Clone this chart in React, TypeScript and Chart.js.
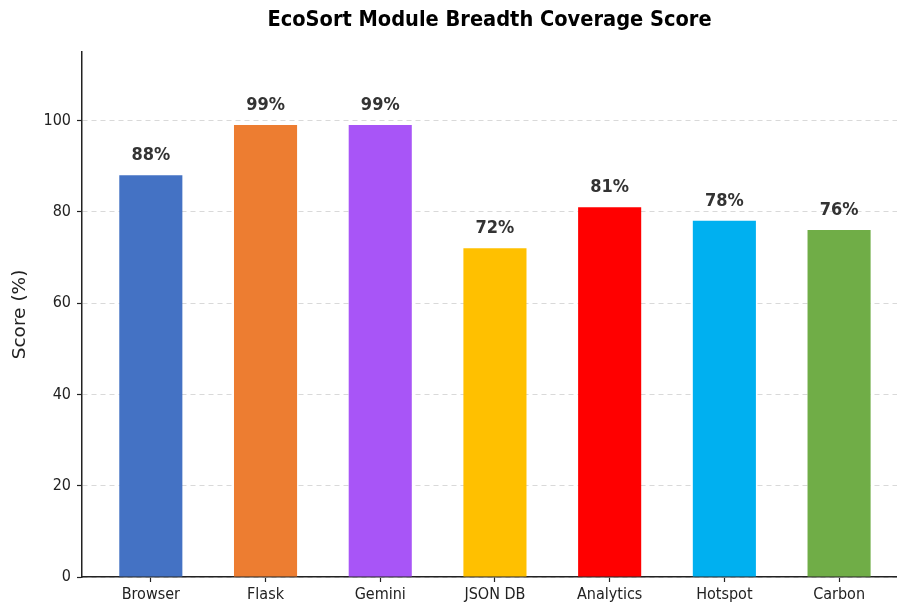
import { useEffect, useRef } from "react";
import { Chart, registerables } from "chart.js";
Chart.register(...registerables);

const categories = ["Browser", "Flask", "Gemini", "JSON DB", "Analytics", "Hotspot", "Carbon"];
const scores = [88, 99, 99, 72, 81, 78, 76];
const barColors = ["#4472C4", "#ED7D31", "#A855F7", "#FFC000", "#FF0000", "#00B0F0", "#70AD47"];
const yTicks = [0, 20, 40, 60, 80, 100];

const FONT = "'DejaVu Sans Condensed', 'DejaVu Sans', sans-serif";

const valueLabels = {
  id: "valueLabels",
  afterDatasetsDraw(chart: any) {
    const ctx = chart.ctx;
    const meta = chart.getDatasetMeta(0);
    ctx.save();
    ctx.font = `bold 18px ${FONT}`;
    ctx.fillStyle = "#333333";
    ctx.textAlign = "center";
    ctx.textBaseline = "alphabetic";
    meta.data.forEach((el: any, i: number) => {
      ctx.fillText(`${scores[i]}%`, el.x, el.y - 15);
    });
    ctx.restore();
  },
};

export default function App() {
  const ref = useRef<HTMLCanvasElement>(null);
  useEffect(() => {
    document.body.style.margin = "0";
    const chart = new Chart(ref.current!, {
      type: "bar",
      data: {
        datasets: [
          {
            data: scores.map((s, i) => ({ x: i, y: s })),
            backgroundColor: barColors,
            categoryPercentage: 1,
            barPercentage: 0.55,
          },
        ],
      },
      options: {
        animation: false,
        responsive: false,
        layout: { padding: { top: 0, bottom: 0, left: 0, right: 0 } },
        plugins: {
          legend: { display: false },
          tooltip: { enabled: false },
          title: {
            display: true,
            fullSize: false,
            text: "EcoSort Module Breadth Coverage Score",
            color: "#000000",
            font: { family: FONT, size: 21.6, weight: "bold", lineHeight: 1.2 },
            padding: { top: 7, bottom: 19 },
          },
        },
        scales: {
          x: {
            type: "linear",
            offset: false,
            min: -0.6,
            max: 6.505,
            afterBuildTicks: (s: any) => {
              s.ticks = categories.map((_, i) => ({ value: i }));
            },
            afterFit: (s: any) => {
              s.height = 29;
            },
            ticks: {
              callback: (v: any) => categories[v as number],
              font: { family: FONT, size: 16 },
              color: "#222222",
              padding: 3,
              maxRotation: 0,
              autoSkip: false,
            },
            grid: {
              offset: false,
              drawOnChartArea: false,
              drawTicks: true,
              tickLength: 5,
              tickColor: "#222222",
              tickWidth: 1.2,
            },
            border: { color: "#222222", width: 1.5 },
          },
          y: {
            min: 0,
            max: 115,
            afterBuildTicks: (s: any) => {
              s.ticks = yTicks.map((v) => ({ value: v }));
            },
            afterFit: (s: any) => {
              s.width = 82;
            },
            ticks: {
              font: { family: FONT, size: 16 },
              color: "#222222",
              padding: 6,
            },
            grid: {
              color: "#d9d9d9",
              tickBorderDash: [],
              drawTicks: true,
              tickLength: 5,
              tickColor: "#222222",
              tickWidth: 1.2,
            } as any,
            border: { color: "#222222", width: 1.5, dash: [5, 4] },
            title: {
              display: true,
              text: "Score (%)",
              color: "#222222",
              font: { family: "'DejaVu Sans', sans-serif", size: 18.5 },
              padding: { top: 9, bottom: 0 },
            },
          },
        },
      },
      plugins: [valueLabels],
    } as any);
    return () => chart.destroy();
  }, []);
  return (
    <div style={{ position: "fixed", left: 0, top: 0, width: 897, height: 606, background: "#fff" }}>
      <canvas ref={ref} width={897} height={606} style={{ width: 897, height: 606 }} />
    </div>
  );
}
